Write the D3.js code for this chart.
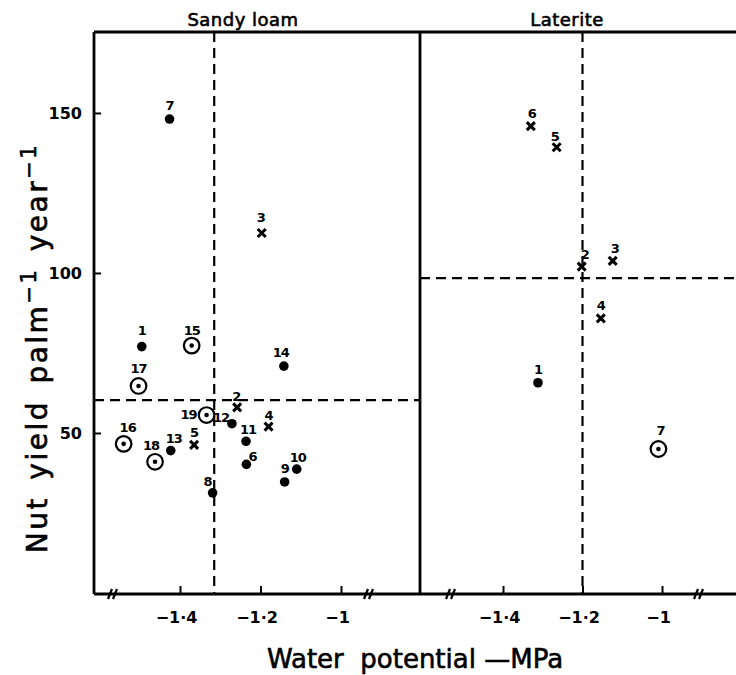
<!DOCTYPE html>
<html>
<head>
<meta charset="utf-8">
<script src="https://cdn.jsdelivr.net/npm/d3@7"></script>
<style>
	body { margin: 0; background: #fff; }
	text { font-family: "DejaVu Sans", sans-serif; fill: #000; }
	.tick text { font-weight: bold; font-size: 16px; }
	.num { font-weight: bold; font-size: 13px; letter-spacing: -1px; }
	.ttl { stroke: #000; stroke-width: 0.6px; }
</style>
</head>
<body>
<svg id="chart"></svg>
<script>
	// ---- data ----
	// Sandy loam panel
	let sandyIds   = [1, 2, 3, 4, 5, 6, 7, 8, 9, 10, 11, 12, 13, 14, 15, 16, 17, 18, 19]
	let sandyPsi   = [-1.495, -1.258, -1.197, -1.180, -1.365, -1.235, -1.426, -1.319, -1.140, -1.110,
	                  -1.236, -1.271, -1.423, -1.142, -1.371, -1.540, -1.503, -1.462, -1.334]
	let sandyYield = [77.0, 58.0, 112.5, 52.0, 46.3, 40.2, 148.1, 31.3, 34.7, 38.7,
	                  47.4, 52.9, 44.5, 70.9, 77.3, 46.6, 64.7, 41.0, 55.6]
	let sandyKind  = ["dot", "cross", "cross", "cross", "cross", "dot", "dot", "dot", "dot", "dot",
	                  "dot", "dot", "dot", "dot", "ring", "ring", "ring", "ring", "ring"]

	// Laterite panel
	let latIds   = [1, 2, 3, 4, 5, 6, 7]
	let latPsi   = [-1.312, -1.202, -1.124, -1.154, -1.265, -1.330, -1.009]
	let latYield = [65.7, 102.0, 103.8, 85.8, 139.3, 145.9, 45.0]
	let latKind  = ["dot", "cross", "cross", "cross", "cross", "cross", "ring"]

	// dashed threshold lines [psi, yield]
	let sandyCut = [-1.315, 60.3]
	let latCut   = [-1.2, 98.4]

	let xTicks = [-1.4, -1.2, -1]
	let xTickLabels = ["\u22121\u00b74", "\u22121\u00b72", "\u22121"]
	let yTicks = [50, 100, 150]

	// ---- layout ----
	let width = 736, height = 675
	let topY = 32, bottomY = 594
	let leftX = 94, divX = 420, rightX = 760

	let chart = d3.select("#chart").attr("width", width).attr("height", height)

	let yScale = d3.scaleLinear().domain([0, 175.3]).range([593, topY])
	let xSandy = d3.scaleLinear().domain([-1.4, -1]).range([180, 341])
	let xLat   = d3.scaleLinear().domain([-1.4, -1]).range([503, 662])

	// label offsets (dx, dy) per panel/id, default is straight above
	let nudgeSandy = { 19: [-18, -1], 12: [-11, -6], 8: [-5, -11], 6: [6, -8], 13: [3, -12],
		18: [-4, -16], 16: [4, -16], 17: [0, -17], 15: [0, -15], 1: [0, -16], 14: [-3, -14],
		7: [0, -14], 3: [-1, -15], 9: [0, -13], 10: [1, -12], 11: [2, -12], 2: [-1, -11], 4: [0, -11], 5: [0, -12] }
	let nudgeLat = { 6: [1, -13], 5: [-2, -11], 2: [3, -12], 3: [2, -12], 4: [0, -13], 1: [0, -13], 7: [2, -18] }

	// frame
	let frame = chart.append("g").attr("stroke", "#000").attr("stroke-width", 2.8).attr("fill", "none")
	frame.append("line").attr("x1", leftX).attr("x2", rightX).attr("y1", topY).attr("y2", topY)
	frame.append("line").attr("x1", leftX).attr("x2", leftX).attr("y1", topY).attr("y2", bottomY)
	frame.append("line").attr("x1", divX).attr("x2", divX).attr("y1", topY).attr("y2", bottomY)
	frame.append("line").attr("x1", leftX).attr("x2", rightX).attr("y1", bottomY).attr("y2", bottomY)

	// axis breaks
	let breaks = [111, 367, 449, 697]
	breaks.forEach(function(bx){
		[0, 5].forEach(function(o){
			frame.append("line")
				.attr("x1", bx - 3 + o).attr("y1", bottomY + 5)
				.attr("x2", bx + 1 + o).attr("y2", bottomY - 5)
				.attr("stroke-width", 2.2)
		})
	})

	// axes
	let yAxis = d3.axisLeft(yScale).tickValues(yTicks).tickSize(-7).tickPadding(12)
	let yG = chart.append("g").attr("transform", "translate(" + leftX + ",0)").call(yAxis)

	function xAxisFor(scale){
		return d3.axisBottom(scale).tickValues(xTicks).tickSize(-8).tickPadding(18)
			.tickFormat(function(d, i){ return xTickLabels[i] })
	}
	let xG1 = chart.append("g").attr("transform", "translate(0," + bottomY + ")").call(xAxisFor(xSandy))
	let xG2 = chart.append("g").attr("transform", "translate(0," + bottomY + ")").call(xAxisFor(xLat))

	;[yG, xG1, xG2].forEach(function(g){
		g.select(".domain").remove()
		g.selectAll(".tick line").attr("stroke-width", 2)
	})
	xG1.selectAll(".tick text").attr("dx", -4)
	xG2.selectAll(".tick text").attr("dx", -4)

	// dashed threshold lines
	let dashes = chart.append("g").attr("stroke", "#000").attr("stroke-width", 2.2)
		.attr("stroke-dasharray", "10,6")
	dashes.append("line").attr("x1", xSandy(sandyCut[0])).attr("x2", xSandy(sandyCut[0]))
		.attr("y1", topY).attr("y2", bottomY)
	dashes.append("line").attr("x1", leftX).attr("x2", divX)
		.attr("y1", yScale(sandyCut[1])).attr("y2", yScale(sandyCut[1]))
	dashes.append("line").attr("x1", xLat(latCut[0])).attr("x2", xLat(latCut[0]))
		.attr("y1", topY).attr("y2", bottomY)
	dashes.append("line").attr("x1", divX).attr("x2", rightX)
		.attr("y1", yScale(latCut[1])).attr("y2", yScale(latCut[1]))

	// points
	function drawPanel(ids, psi, yld, kind, xScale, nudge){
		let data = ids.map(function(id, i){ return { id: id, psi: psi[i], y: yld[i], kind: kind[i] } })
		let g = chart.append("g")
		let pts = g.selectAll("g.pt").data(data).enter().append("g")
			.attr("class", "pt")
			.attr("transform", function(d){ return "translate(" + xScale(d.psi) + "," + yScale(d.y) + ")" })

		pts.filter(function(d){ return d.kind == "dot" }).append("circle")
			.attr("r", 4.8).attr("fill", "#000")
		let rings = pts.filter(function(d){ return d.kind == "ring" })
		rings.append("circle").attr("r", 7.8).attr("fill", "#fff").attr("stroke", "#000").attr("stroke-width", 2.2)
		rings.append("circle").attr("r", 2.3).attr("fill", "#000")
		pts.filter(function(d){ return d.kind == "cross" }).append("path")
			.attr("d", "M-4,-4L4,4M-4,4L4,-4")
			.attr("stroke", "#000").attr("stroke-width", 3)

		pts.append("text").attr("class", "num")
			.attr("text-anchor", "middle").attr("dominant-baseline", "central")
			.attr("x", function(d){ return (nudge[d.id] || [0, -12])[0] })
			.attr("y", function(d){ return (nudge[d.id] || [0, -12])[1] })
			.text(function(d){ return d.id })
	}
	drawPanel(sandyIds, sandyPsi, sandyYield, sandyKind, xSandy, nudgeSandy)
	drawPanel(latIds, latPsi, latYield, latKind, xLat, nudgeLat)

	// titles
	chart.append("text").attr("class", "ttl").attr("x", 243).attr("y", 26).attr("text-anchor", "middle")
		.style("font-size", "18px").style("letter-spacing", "0.5px").text("Sandy loam")
	chart.append("text").attr("class", "ttl").attr("x", 567).attr("y", 26).attr("text-anchor", "middle")
		.style("font-size", "18px").style("letter-spacing", "0.5px").text("Laterite")

	chart.append("text").attr("class", "ttl").attr("x", 415).attr("y", 668).attr("text-anchor", "middle")
		.style("font-size", "26px").style("white-space", "pre").text("Water  potential \u2014MPa")

	let yt = chart.append("text").attr("class", "ttl").attr("transform", "translate(47,348) rotate(-90)")
		.attr("text-anchor", "middle").style("font-size", "28px")
		.style("letter-spacing", "2.5px").style("word-spacing", "5px")
	yt.append("tspan").text("Nut yield palm")
	yt.append("tspan").attr("dy", -11).style("font-size", "21px").text("\u22121")
	yt.append("tspan").attr("dy", 11).text(" year")
	yt.append("tspan").attr("dy", -11).style("font-size", "21px").text("\u22121")
</script>
</body>
</html>
